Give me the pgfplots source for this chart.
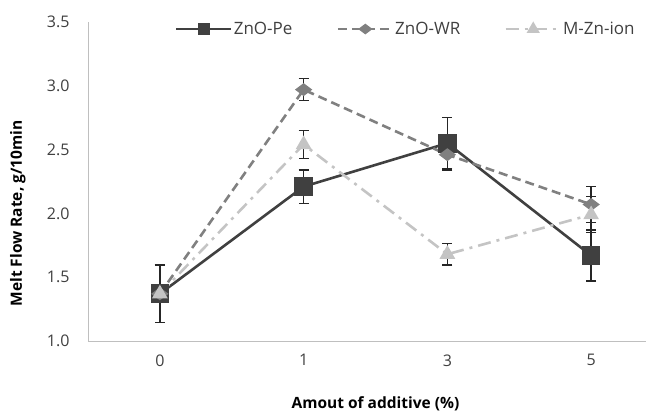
\documentclass[border=0pt]{standalone}
\usepackage{fontspec}
\setmainfont{Open Sans}
\usepackage{pgfplots}
\pgfplotsset{compat=1.18}
\definecolor{pe}{HTML}{404040}
\definecolor{wr}{HTML}{808080}
\definecolor{mzn}{HTML}{C4C4C4}
\definecolor{axgray}{HTML}{BFBFBF}
\definecolor{errc}{HTML}{262626}
\definecolor{txt}{HTML}{404040}

\begin{document}
\begin{tikzpicture}
\useasboundingbox (0,0) rectangle (646bp,414bp);
\clip (0,0) rectangle (646bp,414bp);
\begin{axis}[
    at={(88bp,73bp)}, anchor=south west,
    scale only axis, width=575bp, height=319bp,
    xmin=-0.5, xmax=3.5, ymin=1, ymax=3.5,
    axis lines*=left,
    axis line style={axgray, line width=0.9bp},
    major tick length=0pt,
    xtick={0,1,2,3}, xticklabels={0,1,3,5},
    ytick={1,1.5,2,2.5,3,3.5},
    yticklabel style={/pgf/number format/fixed, /pgf/number format/fixed zerofill, /pgf/number format/precision=1, xshift=-15bp},
    /pgf/number format/assume math mode=true,
    tick label style={font=\fontsize{16bp}{19bp}\selectfont, text=txt},
    xticklabel style={yshift=-10bp},
    xlabel={Amout of additive (\%)},
    ylabel={Melt Flow Rate, g/10min},
    label style={font=\fontsize{15.5bp}{18bp}\selectfont\bfseries, text=black},
    xlabel style={at={(axis description cs:0.5,-0.197)}, anchor=center},
    ylabel style={at={(axis description cs:-0.122,0.4)}, anchor=center},
    legend columns=3,
    legend style={at={(axis description cs:0.151,0.978)}, anchor=west,
        draw=none, fill=none, inner sep=0pt, nodes={inner sep=1bp},
        font=\fontsize{17bp}{20bp}\selectfont, text=txt,
        /tikz/every even column/.append style={column sep=43bp}},
    legend cell align=left,
    legend image code/.code={
        \draw[#1, line width=2.8bp] (0bp,0bp) -- (55bp,0bp);
        \path[#1, mark size=5bp] plot coordinates {(27.5bp,0bp)};},
    error bars/error bar style={errc, line width=1.3bp, solid},
    error bars/error mark options={errc, line width=1.3bp, mark size=5bp, rotate=90, solid},
]
\addplot[pe, line width=2.6bp, mark=square*, mark size=8bp, mark options={solid, fill=pe},
    error bars/.cd, y dir=both, y explicit]
  coordinates {(0,1.37) +- (0,0.225) (1,2.21) +- (0,0.13) (2,2.55) +- (0,0.20) (3,1.67) +- (0,0.20)};
\addlegendentry{ZnO-Pe}
\addplot[wr, line width=2.6bp, dash pattern=on 9bp off 5bp, mark=diamond*, mark size=6.5bp, mark options={solid, fill=wr, rotate=90},
    error bars/.cd, y dir=both, y explicit]
  coordinates {(0,1.37) +- (0,0.225) (1,2.97) +- (0,0.085) (2,2.46) +- (0,0.12) (3,2.07) +- (0,0.14)};
\addlegendentry{ZnO-WR}
\addplot[mzn, line width=2.6bp, dash pattern=on 13bp off 6bp on 3bp off 6bp, mark=triangle*, mark size=6.5bp, mark options={solid, fill=mzn},
    error bars/.cd, y dir=both, y explicit]
  coordinates {(0,1.37) +- (0,0.225) (1,2.54) +- (0,0.11) (2,1.68) +- (0,0.085) (3,1.99) +- (0,0.14)};
\addlegendentry{M-Zn-ion}
\end{axis}
\end{tikzpicture}
\end{document}
